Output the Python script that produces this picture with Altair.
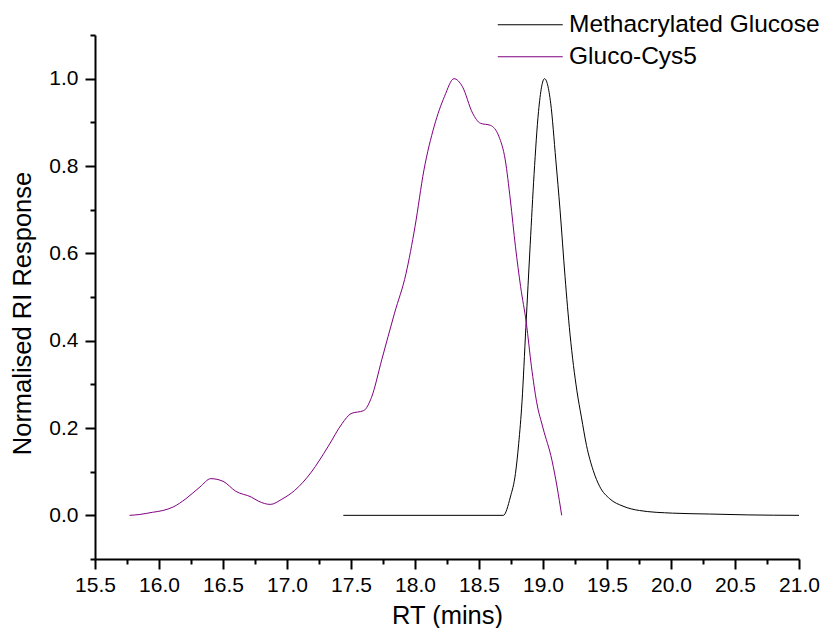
import altair as alt
import pandas as pd

series_names = ["Methacrylated Glucose", "Gluco-Cys5"]
series_colors = ["#000000", "#800080"]

meth_x = [17.44, 18.69, 18.745, 18.785, 18.81, 18.836, 18.866, 18.90, 18.93,
          18.965, 19.012, 19.06, 19.10, 19.133, 19.172, 19.211, 19.265, 19.30,
          19.34, 19.392, 19.443, 19.521, 19.625, 19.754, 20.013, 20.30, 20.60, 21.0]
meth_y = [0.0, 0.0, 0.042, 0.096, 0.164, 0.26, 0.43, 0.62, 0.78,
          0.925, 1.0, 0.944, 0.814, 0.70, 0.547, 0.415, 0.285, 0.225,
          0.160, 0.103, 0.066, 0.038, 0.021, 0.011, 0.005, 0.003, 0.001, 0.0]

gluco_x = [15.77, 15.85, 15.95, 16.03, 16.11, 16.21, 16.32, 16.405, 16.50, 16.60,
           16.72, 16.78, 16.87, 16.96, 17.06, 17.19, 17.32, 17.43, 17.50, 17.60,
           17.66, 17.74, 17.84, 17.93, 18.00, 18.07, 18.15, 18.23, 18.305, 18.37,
           18.45, 18.51, 18.59, 18.655, 18.705, 18.745, 18.785, 18.825, 18.87,
           18.91, 18.95, 19.00, 19.07, 19.11, 19.146]
gluco_y = [0.0, 0.002, 0.007, 0.011, 0.019, 0.038, 0.065, 0.084, 0.078, 0.055,
           0.042, 0.032, 0.025, 0.037, 0.057, 0.099, 0.157, 0.21, 0.233, 0.24,
           0.27, 0.356, 0.463, 0.554, 0.661, 0.791, 0.891, 0.959, 1.0, 0.982,
           0.921, 0.898, 0.893, 0.868, 0.814, 0.722, 0.615, 0.524, 0.44,
           0.34, 0.26, 0.20, 0.126, 0.065, 0.0]

x_major = [15.5, 16.0, 16.5, 17.0, 17.5, 18.0, 18.5, 19.0, 19.5, 20.0, 20.5, 21.0]
x_minor = [15.75, 16.25, 16.75, 17.25, 17.75, 18.25, 18.75, 19.25, 19.75, 20.25, 20.75]
y_major = [0.0, 0.2, 0.4, 0.6, 0.8, 1.0]
y_minor = [-0.1, 0.1, 0.3, 0.5, 0.7, 0.9, 1.1]

rows = []
for x, y in zip(meth_x, meth_y):
    rows.append({"rt": x, "resp": y, "series": series_names[0]})
for x, y in zip(gluco_x, gluco_y):
    rows.append({"rt": x, "resp": y, "series": series_names[1]})
df = pd.DataFrame(rows)

FONT = "Liberation Sans"
xscale = alt.Scale(domain=[15.5, 21.0], nice=False, zero=False)
yscale = alt.Scale(domain=[-0.1, 1.1], nice=False, zero=False)

base = alt.Chart(df)

lines = base.mark_line(strokeWidth=1, interpolate="monotone").encode(
    x=alt.X("rt:Q", scale=xscale, axis=alt.Axis(
        orient="bottom", values=x_major, format=".1f", title="RT (mins)",
        tickSize=10, tickWidth=2, tickColor="black", domainWidth=2, domainColor="black",
        labelFont=FONT, labelFontSize=21, labelColor="black", labelPadding=5,
        labelFlush=False, labelOverlap=False,
        titleFont=FONT, titleFontSize=25.5, titleFontWeight="normal", titleColor="black",
        titleY=64, titleBaseline="alphabetic", grid=False)),
    y=alt.Y("resp:Q", scale=yscale, axis=alt.Axis(
        orient="left", values=y_major, format=".1f", title="Normalised RI Response",
        tickSize=10, tickWidth=2, tickColor="black", domainWidth=2, domainColor="black",
        labelFont=FONT, labelFontSize=21, labelColor="black", labelPadding=7,
        labelFlush=False, labelOverlap=False,
        titleFont=FONT, titleFontSize=25.5, titleFontWeight="normal", titleColor="black",
        titleX=-73, titleY=278, titleAngle=270, titleAlign="center",
        titleBaseline="middle", grid=False)),
    color=alt.Color("series:N", scale=alt.Scale(domain=series_names, range=series_colors),
                    sort=series_names,
                    legend=alt.Legend(
                        title="", orient="none", legendX=434.5, legendY=-27.25,
                        symbolType="M-3,0H1", symbolSize=1056, symbolStrokeWidth=1,
                        labelFont=FONT, labelFontSize=24.5, labelColor="black",
                        labelOffset=5.5, rowPadding=3, labelLimit=400)),
)

minor = base.mark_line(strokeOpacity=0).encode(
    x=alt.X("rt:Q", scale=xscale, axis=alt.Axis(
        orient="bottom", values=x_minor, labels=False, title="", tickSize=5,
        tickWidth=2, tickColor="black", domain=False, grid=False)),
    y=alt.Y("resp:Q", scale=yscale, axis=alt.Axis(
        orient="left", values=y_minor, labels=False, title="", tickSize=5,
        tickWidth=2, tickColor="black", domain=False, grid=False)),
    detail="series:N",
)

chart = alt.layer(lines, minor).resolve_axis(x="independent", y="independent").properties(
    width=704, height=524,
    autosize=alt.AutoSizeParams(type="none"),
    padding={"left": 87, "top": 27, "right": 22, "bottom": 69},
).configure_view(stroke=None)

chart.save("out.html", embed_options={"renderer": "svg", "actions": False})
